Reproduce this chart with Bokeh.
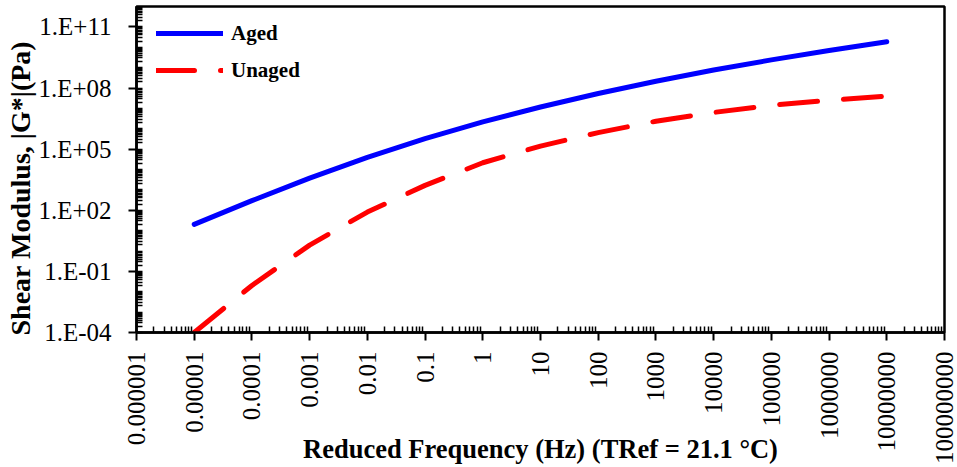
import math
from bokeh.plotting import figure
from bokeh.models import (ColumnDataSource, Range1d, FixedTicker, Legend, LegendItem, Title)
from bokeh.embed import file_html
from bokeh.resources import INLINE

# ---- data ----
freq_hz = [1e-5, 1e-4, 1e-3, 1e-2, 1e-1, 1e0, 1e1, 1e2, 1e3, 1e4, 1e5, 1e6, 1e7]
aged_G = [2.04e1, 2.95e2, 3.80e3, 3.98e4, 3.31e5, 2.19e6, 1.17e7, 5.37e7,
          2.14e8, 7.59e8, 2.40e9, 6.92e9, 1.86e10]
unaged_G = [1.0e-4, 2.04e-2, 1.95e0, 8.13e1, 1.66e3, 2.14e4, 1.41e5, 6.46e5,
            2.34e6, 6.31e6, 1.41e7, 2.51e7, 3.98e7]

x_tick_values = [1e-6, 1e-5, 1e-4, 1e-3, 1e-2, 1e-1, 1e0, 1e1, 1e2, 1e3, 1e4, 1e5, 1e6, 1e7, 1e8]
x_tick_labels = ["0.000001", "0.00001", "0.0001", "0.001", "0.01", "0.1", "1", "10",
                 "100", "1000", "10000", "100000", "1000000", "10000000", "100000000"]
y_tick_values = [1e-4, 1e-1, 1e2, 1e5, 1e8, 1e11]
y_tick_labels = ["1.E-04", "1.E-01", "1.E+02", "1.E+05", "1.E+08", "1.E+11"]

series_names = ["Aged", "Unaged"]
x_title = "Reduced Frequency (Hz) (TRef = 21.1 °C)"
y_title = "Shear Modulus, |G*|(Pa)"

FONT = "Liberation Serif"

p = figure(width=957, height=467, x_axis_type="log", y_axis_type="log",
           x_range=Range1d(1e-6, 1e8), y_range=Range1d(1e-4, 1e12),
           output_backend="svg", toolbar_location=None,
           min_border_left=136, min_border_right=13, min_border_top=6, min_border_bottom=135)
p.background_fill_color = "white"
p.border_fill_color = "white"
p.xgrid.visible = False
p.ygrid.visible = False
p.outline_line_color = "black"
p.outline_line_width = 2.5

# ticks
x_minor = [k * 10.0 ** n for n in range(-6, 8) for k in range(2, 10)]
y_minor = [k * 10.0 ** n for n in range(-4, 12) for k in range(1, 10)]
p.xaxis.ticker = FixedTicker(ticks=x_tick_values, minor_ticks=x_minor)
p.yaxis.ticker = FixedTicker(ticks=y_tick_values, minor_ticks=y_minor)
p.xaxis.major_label_overrides = {v: s for v, s in zip(x_tick_values, x_tick_labels)}
p.yaxis.major_label_overrides = {v: s for v, s in zip(y_tick_values, y_tick_labels)}
p.xaxis.major_label_orientation = math.pi / 2

for ax in (p.xaxis, p.yaxis):
    ax.axis_line_color = "black"
    ax.axis_line_width = 2.5
    ax.major_tick_line_color = "black"
    ax.major_tick_line_width = 2
    ax.major_tick_in = 0
    ax.major_tick_out = 8
    ax.minor_tick_line_color = "black"
    ax.minor_tick_line_width = 1.5
    ax.minor_tick_in = 6
    ax.minor_tick_out = 0
    ax.major_label_text_font = FONT
    ax.major_label_text_font_size = "25px"
    ax.major_label_text_color = "black"
p.xaxis.major_label_standoff = 11
p.yaxis.major_label_standoff = 17

# x title as the axis label, pulled up beside the long tick labels
p.xaxis.axis_label = x_title
p.xaxis.axis_label_text_font = FONT
p.xaxis.axis_label_text_font_style = "bold"
p.xaxis.axis_label_text_font_size = "26.5px"
p.xaxis.axis_label_text_color = "black"
p.xaxis.axis_label_standoff = -33

src = ColumnDataSource(dict(f=freq_hz, aged=aged_G, unaged=unaged_G))
r_aged = p.line("f", "aged", source=src, line_color="#0000FF", line_width=5, line_cap="round")
r_unaged = p.line("f", "unaged", source=src, line_color="#FF0000", line_width=5,
                  line_cap="round", line_dash="38 26")

legend = Legend(items=[LegendItem(label=series_names[0], renderers=[r_aged]),
                       LegendItem(label=series_names[1], renderers=[r_unaged])],
                location=(20, 247), padding=0, margin=0, spacing=7,
                glyph_width=67, glyph_height=30, label_height=30, label_standoff=8,
                label_text_font=FONT, label_text_font_style="bold",
                label_text_font_size="21px", label_text_color="black",
                border_line_alpha=0, background_fill_alpha=0)
p.add_layout(legend, "center")

# y title (starts just below the frame's bottom and reads upward)
p.add_layout(Title(text=y_title, align="left", offset=-3, standoff=0,
                   text_font=FONT, text_font_style="bold", text_font_size="28px",
                   text_color="black"), "left")

open("out.html", "w").write(file_html(p, INLINE))
